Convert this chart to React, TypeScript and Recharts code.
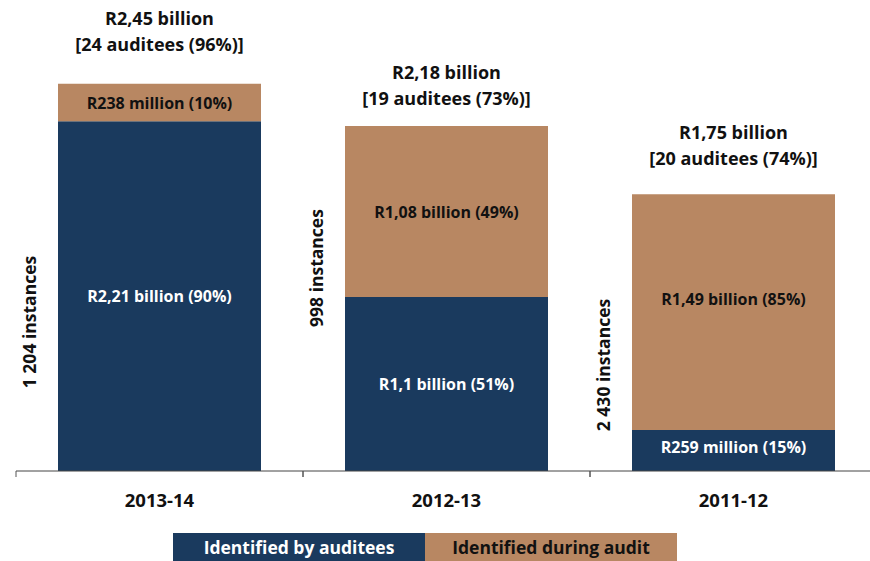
import { BarChart, Bar, XAxis, YAxis, LabelList } from 'recharts';

const periods = ['2013-14', '2012-13', '2011-12'];
const byAuditees = [2.21, 1.1, 0.259];
const duringAudit = [0.238, 1.08, 1.49];
const byAuditeesText = ['R2,21 billion (90%)', 'R1,1 billion (51%)', 'R259 million (15%)'];
const duringAuditText = ['R238 million (10%)', 'R1,08 billion (49%)', 'R1,49 billion (85%)'];
const totalText = ['R2,45 billion', 'R2,18 billion', 'R1,75 billion'];
const auditeeText = ['[24 auditees (96%)]', '[19 auditees (73%)]', '[20 auditees (74%)]'];
const instanceText = ['1 204 instances', '998 instances', '2 430 instances'];

// layout tweaks (pixels), not data
const totalGap = [39, 27, 35];
const instanceRise = [149, 203, 106];
const brownShift = [0, 0, -13];

const BLUE = '#1a3a5e';
const BROWN = '#b88762';
const FONT = '"Open Sans", Lato, sans-serif';

const data = periods.map((p, i) => ({
  period: p,
  byAuditees: byAuditees[i],
  duringAudit: duringAudit[i],
}));

// eslint-disable-next-line @typescript-eslint/no-explicit-any
const PeriodTick = ({ x, y, payload }: any) => (
  <g>
    <line x1={x - 143.5} x2={x - 143.5} y1={y} y2={y + 6} stroke="#555" />
    <line x1={x + 143.5} x2={x + 143.5} y1={y} y2={y + 6} stroke="#555" />
    <text x={x} y={y + 36} textAnchor="middle" fontSize={18.5} fontWeight={700} fill="#111" fontFamily={FONT}>
      {payload.value}
    </text>
  </g>
);

// eslint-disable-next-line @typescript-eslint/no-explicit-any
const makeInner = (texts: string[], color: string, shift: number[]) => (props: any) => {
  const { x, y, width, height, index } = props;
  return (
    <text
      x={x + width / 2}
      y={y + height / 2 + shift[index]}
      dy={6}
      textAnchor="middle"
      fontSize={16}
      fontWeight={700}
      fill={color}
      fontFamily={FONT}
    >
      {texts[index]}
    </text>
  );
};

// eslint-disable-next-line @typescript-eslint/no-explicit-any
const TotalLabel = (props: any) => {
  const { x, y, width, index } = props;
  const cx = x + width / 2;
  const y2 = y - totalGap[index];
  return (
    <g fontFamily={FONT} fontSize={18} fontWeight={700} fill="#111" textAnchor="middle">
      <text x={cx} y={y2 - 26} dy={6}>{totalText[index]}</text>
      <text x={cx} y={y2} dy={6}>{auditeeText[index]}</text>
    </g>
  );
};

// eslint-disable-next-line @typescript-eslint/no-explicit-any
const InstanceLabel = (props: any) => {
  const { x, y, height, index } = props;
  const base = y + height;
  const cx = x - 28;
  const cy = base - instanceRise[index];
  return (
    <text
      x={cx}
      y={cy}
      dy={6}
      textAnchor="middle"
      transform={`rotate(-90 ${cx} ${cy})`}
      fontSize={17.5}
      fontWeight={700}
      fill="#111"
      fontFamily={FONT}
    >
      {instanceText[index]}
    </text>
  );
};

const legendBox = (bg: string, color: string) => ({
  width: 252,
  height: 28,
  background: bg,
  color,
  display: 'flex',
  alignItems: 'center',
  justifyContent: 'center',
  fontFamily: FONT,
  fontWeight: 700,
  fontSize: 17.5,
});

export default function App() {
  return (
    <div style={{ position: 'absolute', left: 0, top: 0, width: 870, height: 561, overflow: 'hidden', background: '#fff' }}>
      <BarChart
        width={877}
        height={561}
        data={data}
        margin={{ top: 28, right: 0, bottom: 0, left: 16 }}
      >
        <XAxis
          dataKey="period"
          height={90}
          interval={0}
          tickLine={false}
          tickSize={0}
          tickMargin={0}
          axisLine={{ stroke: '#444' }}
          tick={<PeriodTick />}
        />
        <YAxis hide domain={[0, 2.8]} />
        <Bar dataKey="byAuditees" stackId="a" fill={BLUE} barSize={203} isAnimationActive={false}>
          <LabelList dataKey="byAuditees" content={makeInner(byAuditeesText, '#fff', [0, 0, -4])} />
          <LabelList dataKey="byAuditees" content={InstanceLabel} />
        </Bar>
        <Bar dataKey="duringAudit" stackId="a" fill={BROWN} barSize={203} isAnimationActive={false}>
          <LabelList dataKey="duringAudit" content={makeInner(duringAuditText, '#111', brownShift)} />
          <LabelList dataKey="duringAudit" content={TotalLabel} />
        </Bar>
      </BarChart>
      <div style={{ position: 'absolute', left: 173, top: 533, display: 'flex' }}>
        <div style={legendBox(BLUE, '#fff')}>Identified by auditees</div>
        <div style={legendBox(BROWN, '#111')}>Identified during audit</div>
      </div>
    </div>
  );
}
